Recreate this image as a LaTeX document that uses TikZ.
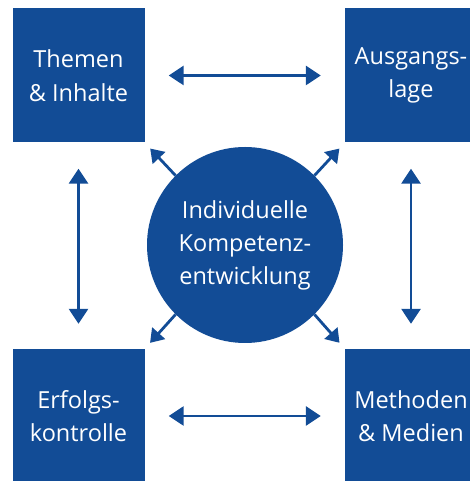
\documentclass[tikz,border=0pt]{standalone}
\usepackage{fontspec}
\setmainfont{Open Sans}
\usetikzlibrary{arrows.meta,calc}
\definecolor{ublue}{RGB}{18,76,150}
\begin{document}
\begin{tikzpicture}[x=1pt,y=1pt,
  box/.style={fill=ublue,minimum width=132pt,minimum height=134pt,inner sep=0pt,
    text=white,align=center,font=\fontsize{23.5}{33.5}\selectfont},
  core/.style={circle,fill=ublue,minimum size=196pt,inner sep=0pt,
    text=white,align=center,font=\fontsize{23.5}{33}\selectfont},
  link/.style={draw=ublue,line width=2.8pt,{Triangle[width=19pt,length=15pt]}-{Triangle[width=19pt,length=15pt]}},
  ray/.style={draw=ublue,line width=2.8pt,-{Triangle[width=17pt,length=13pt]}}]
\useasboundingbox (0,0) rectangle (470,481);
\clip (0,0) rectangle (470,481);
\node[box] (tl) at (78.5,405.5) {Themen\\\& Inhalte};
\node[box] (tr) at (411,405.5) {Ausgangs-\\lage};
\node[box] (bl) at (78.5,65) {Erfolgs-\\kontrolle};
\node[box] (br) at (411,65) {Methoden\\\& Medien};
\node[core] (c) at (245,236) {Individuelle\\Kompetenz-\\entwicklung};
\draw[link,shorten <=24pt,shorten >=24pt] (tl.east) -- (tr.west);
\draw[link,shorten <=24pt,shorten >=24pt] (bl.east) -- (br.west);
\draw[link,shorten <=26pt,shorten >=25pt] (tl.south) -- (bl.north);
\draw[link,shorten <=26pt,shorten >=25pt] (tr.south) -- (br.north);
\draw[ray,shorten >=8pt] (c.135) -- (tl.south east);
\draw[ray,shorten >=8pt] (c.45) -- (tr.south west);
\draw[ray,shorten >=8pt] (c.225) -- (bl.north east);
\draw[ray,shorten >=8pt] (c.315) -- (br.north west);
\end{tikzpicture}
\end{document}
